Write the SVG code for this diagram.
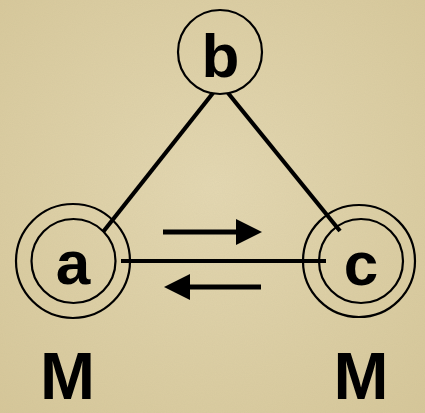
<svg xmlns="http://www.w3.org/2000/svg" width="425" height="413" viewBox="0 0 425 413">
<defs>
<radialGradient id="bg" cx="50%" cy="45%" r="75%">
<stop offset="0" stop-color="#e4d8b2"/>
<stop offset="1" stop-color="#d6c799"/>
</radialGradient>
<filter id="grain" x="0" y="0" width="100%" height="100%">
<feTurbulence type="fractalNoise" baseFrequency="0.9" numOctaves="2" seed="3" result="n"/>
<feColorMatrix in="n" type="matrix" values="0 0 0 0 0.45  0 0 0 0 0.4  0 0 0 0 0.25  0 0 0 0.12 0"/>
</filter>
</defs>
<style>
.ring{fill:none;stroke:#000;stroke-width:2.2}
.lbl{font-family:"Liberation Sans",Arial,sans-serif;font-weight:bold;font-size:62px;fill:#000;text-anchor:middle}
.m{font-size:66px}
.edge{stroke:#000;stroke-width:4.2;fill:none}
.arr{stroke:#000;stroke-width:5;fill:none}
</style>
<rect width="425" height="413" fill="url(#bg)"/>
<rect width="425" height="413" filter="url(#grain)"/>
<g id="connectors">
<line class="edge" x1="103" y1="232" x2="213" y2="93"/>
<line class="edge" x1="228" y1="93" x2="340" y2="231"/>
<line class="edge" x1="121" y1="261" x2="326" y2="261"/>
<path d="M163,232 H240" class="arr"/>
<path d="M236,219 L262,232 L236,245 Z" fill="#000"/>
<path d="M261,287 H186" class="arr"/>
<path d="M190,274 L164,287 L190,300 Z" fill="#000"/>
</g>
<g id="node-b">
<circle class="ring" cx="220" cy="52" r="42"/>
<text class="lbl" x="220.5" y="77">b</text>
</g>
<g id="node-a">
<circle class="ring" cx="73" cy="261" r="57"/>
<circle class="ring" cx="73.5" cy="261" r="42"/>
<text class="lbl" x="73" y="284">a</text>
</g>
<g id="node-c">
<circle class="ring" cx="359" cy="261" r="56"/>
<circle class="ring" cx="361" cy="261" r="42"/>
<text class="lbl" x="361" y="285">c</text>
</g>
<g id="labels">
<text class="lbl m" x="67.5" y="399">M</text>
<text class="lbl m" x="361" y="399">M</text>
</g>
</svg>
